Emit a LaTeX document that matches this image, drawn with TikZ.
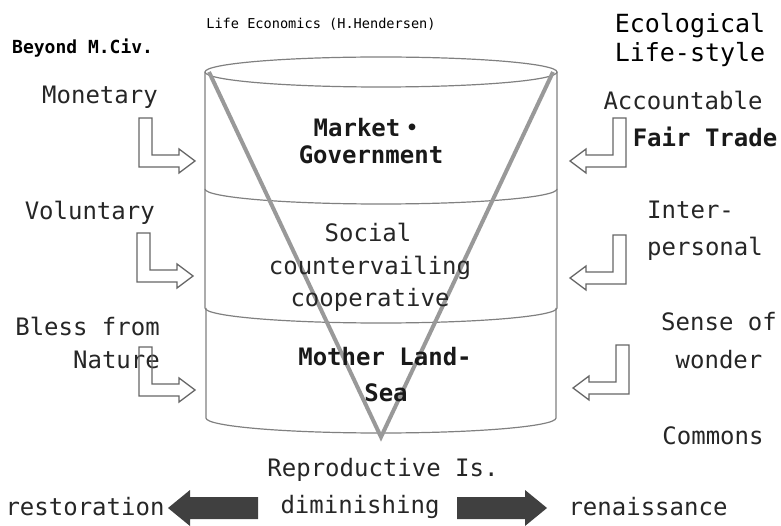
\documentclass[tikz,border=0pt]{standalone}
\usepackage{fontspec}
\setmainfont{DejaVu Sans Mono}
\newfontfamily\cjk{Noto Sans CJK JP}
\usetikzlibrary{positioning}

\begin{document}
\begin{tikzpicture}[x=1pt, y=-1pt, inner sep=0pt,
    txt/.style={font=\fontsize{24}{30}\selectfont, text=black!85},
    bold/.style={font=\fontsize{24}{30}\selectfont\bfseries, text=black!90},
    rim/.style={draw=black!50, line width=1.2pt},
    vee/.style={draw=black!40, line width=4pt},
    larrow/.pic={\draw[draw=black!60, line width=1.3pt]
        (-56,-43) -- (-43,-43) -- (-43,-6) -- (-16,-6) -- (-16,-12) -- (0,0)
        -- (-16,12) -- (-16,6) -- (-56,6) -- cycle;},
    blockarr/.pic={\fill[black!75] (0,0) -- (22,-18) -- (22,-11) -- (90,-11)
        -- (90,11) -- (22,11) -- (22,18) -- cycle;}]
  \useasboundingbox (0,0) rectangle (781,526);

  % the three layers of the cylinder
  \draw[rim] (381,72) ellipse [x radius=176, y radius=15];
  \draw[rim] (205,72) -- (205,189) arc [start angle=180, end angle=0, x radius=176, y radius=15] -- (557,72);
  \draw[rim] (205,189) -- (205,308) arc [start angle=180, end angle=0, x radius=176, y radius=15] -- (557,189);
  \draw[rim] (206,308) -- (206,418) arc [start angle=180, end angle=0, x radius=175, y radius=15] -- (556,308);
  \draw[vee] (209,72) -- (381,437) -- (553,72);

  % titles
  \node (life) at (321,24) [font=\fontsize{13.6}{16}\selectfont] {Life Economics (H.Hendersen)};
  \node (beyond) at (12,48) [anchor=west, font=\fontsize{18}{20}\selectfont\bfseries] {Beyond M.Civ.};
  \node (eco) at (690,40) [align=center, font=\fontsize{25}{29}\selectfont] {Ecological\\Life-style};

  % layer labels
  \node (market) at (369,128) [bold] {Market{\cjk ・}};
  \node (gov) at (371,155) [bold] {Government};
  \node (social) at (368,232) [txt] {Social};
  \node (counter) at (370,268) [txt] {countervailing};
  \node (coop) at (370,300) [txt] {cooperative};
  \node (mother) at (385,357) [bold] {Mother Land-};
  \node (sea) at (386,393) [bold] {Sea};

  % left side
  \node (monetary) at (158,97) [txt, anchor=east] {Monetary};
  \node (voluntary) at (155,213) [txt, anchor=east] {Voluntary};
  \node (bless) at (160,343) [txt, anchor=east, align=right, font=\fontsize{24}{33}\selectfont] {Bless from\\Nature};
  \pic at (195,161) {larrow};
  \pic at (193,276) {larrow};
  \pic at (195,390) {larrow};

  % right side
  \node (account) at (683,100) [txt] {Accountable};
  \node (fair) at (705,137) [bold] {Fair Trade};
  \node (inter) at (647,231) [txt, anchor=west, align=left, font=\fontsize{24}{37}\selectfont] {Inter-\\personal};
  \node (sense) at (719,341) [txt, align=center, font=\fontsize{24}{38}\selectfont] {Sense of\\wonder};
  \node (commons) at (713,436) [txt] {Commons};
  \pic[xscale=-1] at (570,161) {larrow};
  \pic[xscale=-1] at (570,278) {larrow};
  \pic[xscale=-1] at (573,388) {larrow};

  % bottom line
  \node (repro) at (383,470) [txt] {Reproductive Is.};
  \node (dimin) at (360,507) [txt] {diminishing};
  \node (restor) at (85,507) [txt] {restoration};
  \node (renais) at (648,507) [txt] {renaissance};
  \pic at (168,508) {blockarr};
  \pic[xscale=-1] at (547,508) {blockarr};
\end{tikzpicture}
\end{document}
